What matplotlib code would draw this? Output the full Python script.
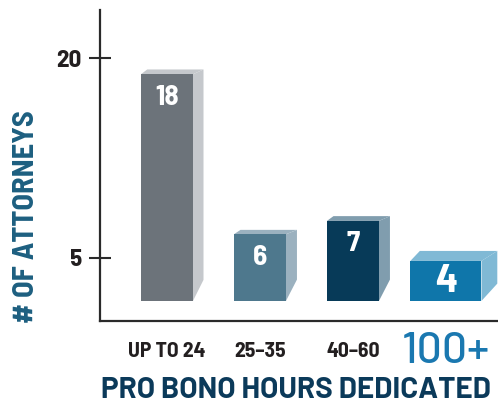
import numpy as np
import matplotlib
matplotlib.use("Agg")
import matplotlib.pyplot as plt
from matplotlib.patches import Polygon

# data
categories = ["UP TO 24", "25\u201335", "40\u201360", "100+"]
values = np.array([18, 6, 7, 4])
y_ticks = [5, 20]

# look of each block (front / side+top colours)
front_colors = ["#6c737a", "#4e788d", "#073a58", "#0f76aa"]
side_colors = ["#c5c8cc", "#9bb1bf", "#809dae", "#80b9d5"]
widths = [0.56, 0.56, 0.56, 0.765]
# depth of the fake 3d: x shift, top rise, bottom rise (data units)
depth_x = [0.113, 0.118, 0.118, 0.17]
depth_top = [0.36, 0.33, 0.36, 0.75]
depth_bot = [1.58, 1.6, 1.6, 1.3]
BASE = 1.78  # blocks stand on this floor and rise (value - 1)

plt.rcParams['font.family'] = ["Barlow Semi Condensed", "DejaVu Sans"]
WIDE = ["Barlow", "DejaVu Sans"]

fig = plt.figure(figsize=(4.98, 4.04), dpi=100)
ax = fig.add_axes([100 / 498, 83 / 404, 398 / 498, 311 / 404])

x = np.arange(len(categories))
heights = values - 1
bars = ax.bar(x, heights, bottom=BASE, width=widths, color=front_colors, zorder=3)

for i, b in enumerate(bars):
    x0, x1 = b.get_x(), b.get_x() + b.get_width()
    y0, y1 = b.get_y(), b.get_y() + b.get_height()
    dx, dt, db = depth_x[i], depth_top[i], depth_bot[i]
    side = Polygon([(x1, y1), (x1 + dx, y1 + dt), (x1 + dx, y0 + db), (x1, y0)],
                   closed=True, facecolor=side_colors[i], edgecolor='none', zorder=2)
    top = Polygon([(x0, y1), (x0 + dx * 0.6, y1 + dt), (x1 + dx, y1 + dt), (x1, y1)],
                  closed=True, facecolor=side_colors[i], edgecolor='none', zorder=2)
    ax.add_patch(side)
    ax.add_patch(top)
    big = i == len(values) - 1
    ax.annotate(str(values[i]), (b.get_x() + b.get_width() / 2, y1),
                xytext=(0, -16.5 if not big else -14.5), textcoords='offset points',
                ha='center', va='center', color='white', fontweight=700,
                fontsize=29 if big else 21, zorder=4)

ax.set_xlim(-0.72, 3.56)
ax.set_ylim(0.275, 23.6)

ax.spines['top'].set_visible(False)
ax.spines['right'].set_visible(False)
for s in ['left', 'bottom']:
    ax.spines[s].set_linewidth(1.6)
    ax.spines[s].set_color('#2a2a2a')

ax.set_yticks(y_ticks)
ax.set_yticklabels([str(t) for t in y_ticks], fontsize=18, fontweight=700, color='#231f20')
ax.tick_params(axis='y', direction='inout', length=16, width=1.5, color='#2a2a2a', pad=5)

ax.set_xticks(x)
ax.set_xticklabels(categories)
ax.tick_params(axis='x', length=0, pad=22)
for i, lab in enumerate(ax.get_xticklabels()):
    lab.set_va('center')
    if i == len(categories) - 1:
        lab.set_family(WIDE)
        lab.set_fontsize(32)
        lab.set_fontweight(500)
        lab.set_color('#1a78b0')
    else:
        lab.set_fontsize(15.5)
        lab.set_fontweight(700)
        lab.set_color('#231f20')

fig.text(27 / 498, 0.465, "# OF ATTORNEYS", rotation=90, ha='center', va='center',
         fontsize=22, fontweight=700, color='#1d5f80')
fig.text(101 / 498, 0.0, "PRO BONO HOURS DEDICATED", ha='left', va='bottom',
         fontsize=21.3, fontweight=700, color='#0b3a5a', family=WIDE)

fig.savefig("out.png", dpi=100)
